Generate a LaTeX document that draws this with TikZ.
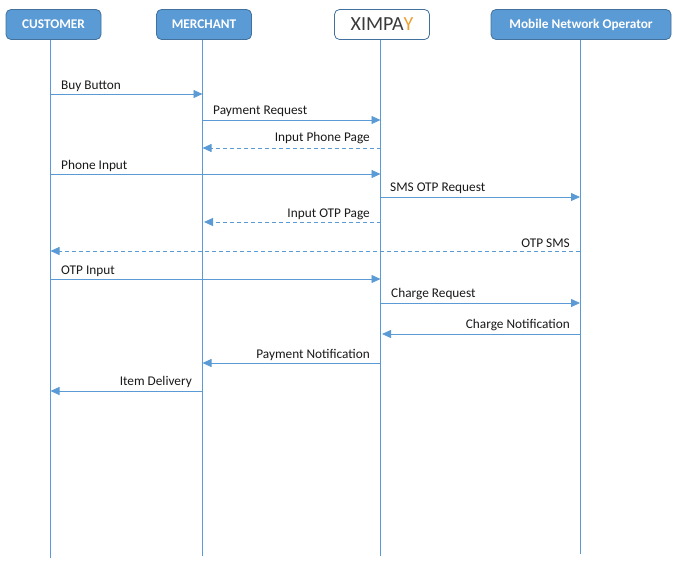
\documentclass[tikz,border=0pt]{standalone}
\usepackage{fontspec}
\setmainfont{Carlito}
\usetikzlibrary{arrows.meta}
\definecolor{lineblue}{HTML}{5B9BD5}
\definecolor{fillblue}{HTML}{5B9BD5}
\definecolor{edgeblue}{HTML}{41719C}
\definecolor{logoorange}{HTML}{F0A030}
\definecolor{logogrey}{HTML}{3A3A3A}
\tikzset{
  actor/.style={draw=edgeblue,fill=fillblue,rounded corners=5pt,line width=0.8pt,minimum height=30pt,text=white,font=\fontsize{13.3}{15}\selectfont\bfseries,inner sep=0pt},
  logobox/.style={draw=edgeblue,fill=white,rounded corners=5pt,line width=0.8pt,minimum height=30pt,minimum width=95pt,inner sep=0pt},
  life/.style={draw=lineblue,line width=0.8pt},
  msg/.style={draw=lineblue,line width=0.8pt,-{Triangle[length=9pt,width=8pt,fill=lineblue]}},
  ret/.style={msg,dash pattern=on 4pt off 3pt},
  lbl/.style={font=\fontsize{13.3}{15}\selectfont,text=black!90,inner sep=0pt,anchor=base}
}
\begin{document}
\begin{tikzpicture}[x=1pt,y=-1pt]
\useasboundingbox (0,0) rectangle (680,570);
\node[actor,minimum width=95pt] (cu) at (53.5,24.5) {CUSTOMER};
\node[actor,minimum width=95pt] (me) at (204,24.5) {MERCHANT};
\node[logobox] (xi) at (382,24.5) {\fontsize{20}{21}\selectfont\textcolor{logogrey}{XIMPA}\textcolor{logoorange}{Y}};
\node[actor,minimum width=180pt] (mn) at (581,24.5) {Mobile Network Operator};
\coordinate (cuE) at (50.5,558);
\coordinate (meE) at (202.5,556);
\coordinate (xiE) at (380.5,556);
\coordinate (mnE) at (580,554);
\draw[life] (cu.south -| cuE) -- (cuE);
\draw[life] (me.south -| meE) -- (meE);
\draw[life] (xi.south -| xiE) -- (xiE);
\draw[life] (mn.south -| mnE) -- (mnE);
% messages
\foreach \n/\y in {a/94,b/120,c/148,d/174,e/197,f/222,g/251,h/279,i/303,j/334,k/363,l/391}{
  \coordinate (cu\n) at (50.5,\y);
  \coordinate (me\n) at (202.5,\y);
  \coordinate (xi\n) at (380.5,\y);
  \coordinate (mn\n) at (580,\y);
}
\draw[msg] (cua) -- (mea);
\draw[msg] (meb) -- (xib);
\draw[ret] (xic) -- (mec);
\draw[msg] (cud) -- (xid);
\draw[msg] (xie) -- (mne);
\draw[ret,shorten >=1.5pt] (xif) -- (mef);
\draw[ret] (mng) -- (cug);
\draw[msg] (cuh) -- (xih);
\draw[msg] (xii) -- (mni);
\draw[msg,shorten >=1.5pt] (mnj) -- (xij);
\draw[msg] (xik) -- (mek);
\draw[msg] (mel) -- (cul);
% labels
\node[lbl,anchor=base west] (la) at (61,89) {Buy Button};
\node[lbl,anchor=base west] (lb) at (213,114) {Payment Request};
\node[lbl,anchor=base east] (lc) at (370,141) {Input Phone Page};
\node[lbl,anchor=base west] (ld) at (61,169) {Phone Input};
\node[lbl,anchor=base west] (le) at (390,191) {SMS OTP Request};
\node[lbl,anchor=base east] (lf) at (370,217) {Input OTP Page};
\node[lbl,anchor=base east] (lg) at (570,247) {OTP SMS};
\node[lbl,anchor=base west] (lh) at (61,274) {OTP Input};
\node[lbl,anchor=base west] (li) at (391,297) {Charge Request};
\node[lbl,anchor=base east] (lj) at (570,328) {Charge Notification};
\node[lbl,anchor=base east] (lk) at (370,358) {Payment Notification};
\node[lbl,anchor=base east] (ll) at (192,385) {Item Delivery};
\end{tikzpicture}
\end{document}
